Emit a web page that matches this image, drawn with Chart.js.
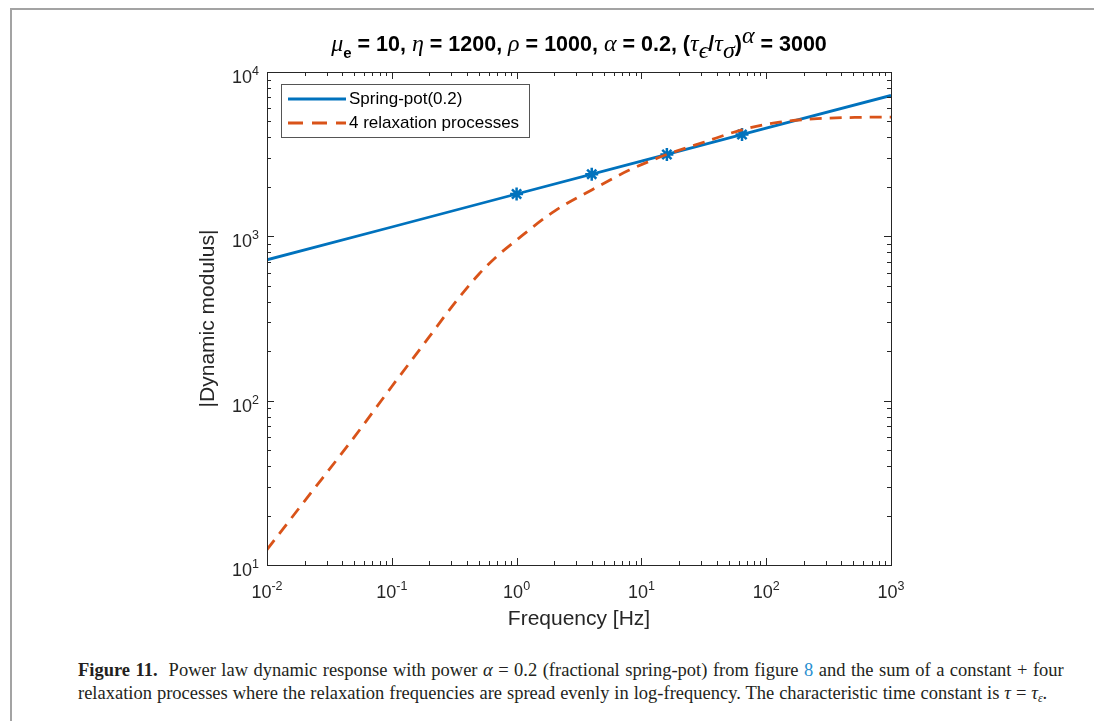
<!DOCTYPE html>
<html>
<head>
<meta charset="utf-8">
<script src="https://cdn.jsdelivr.net/npm/chart.js@4.4.0/dist/chart.umd.min.js"></script>
<style>
  body { margin:0; background:#fff; width:1094px; height:721px; overflow:hidden; position:relative; }
  #frame { position:absolute; left:10px; top:8px; right:0; bottom:0; border-top:2px solid #a3a3a3; border-left:2px solid #a3a3a3; }
  #wrap { position:absolute; left:0; top:0; width:1094px; height:640px; }
  #title { position:absolute; left:267px; width:624px; top:30px; text-align:center; font: bold 21.5px "Liberation Sans", Arial, sans-serif; color:#000; white-space:nowrap; }
  #title .g { font-family:"Liberation Serif", serif; font-style:italic; font-weight:normal; font-size:24px; }
  #title sub, #title sup { line-height:0; font-size:15px; }
  #title sub { vertical-align:-7px; }
  #title sup { vertical-align:8px; }
  #caption { position:absolute; left:78px; top:659px; font: 18.5px "Liberation Serif", serif; line-height:23px; color:#231f20; white-space:nowrap; }
  #caption sub { font-size:12px; line-height:0; vertical-align:-3px; }
</style>
</head>
<body>
<div id="frame"></div>
<div id="wrap"><canvas id="chart" width="1094" height="640"></canvas></div>
<div id="title"><span class="g">μ</span><sub>e</sub> = 10, <span class="g">η</span> = 1200, <span class="g">ρ</span> = 1000, <span class="g">α</span> = 0.2, (<span class="g">τ</span><sub class="g">ϵ</sub>/<span class="g">τ</span><sub class="g">σ</sub>)<sup class="g">α</sup> = 3000</div>
<div id="caption">
  <div style="word-spacing:0.85px"><b>Figure 11.</b>&nbsp; Power law dynamic response with power <i>α</i> = 0.2 (fractional spring-pot) from figure <span style="color:#2a8fd0">8</span> and the sum of a constant + four</div>
  <div style="word-spacing:0.3px">relaxation processes where the relaxation frequencies are spread evenly in log-frequency. The characteristic time constant is <i>τ</i> = <i>τ</i><sub><i>ε</i></sub>.</div>
</div>
<script>
// spring-pot line (straight in log-log), read at the decades
var potFreq = [0.01, 0.1, 1, 10, 100, 1000];
var potVals = [720, 1140, 1810, 2870, 4550, 7200];

// asterisk markers on the spring-pot line
var markFreq = [1, 4, 16, 64];
var markVals = [1810, 2390, 3150, 4160];

// constant + 4 relaxation processes
var relaxFreq = [0.01, 0.02, 0.05, 0.1, 0.2, 0.3, 0.5, 0.7, 1, 2, 4, 8, 16, 32, 64, 128, 256, 512, 1000];
var relaxVals = [12.4, 24.5, 60, 122, 245, 370, 590, 760, 950, 1420, 1915, 2530, 3150, 3750, 4450, 4950, 5200, 5290, 5320];

// log axes: tick decades and their exponents
var xTickVals = [0.01, 0.1, 1, 10, 100, 1000];
var xTickExp = ['-2', '-1', '0', '1', '2', '3'];
var yTickVals = [10, 100, 1000, 10000];
var yTickExp = ['1', '2', '3', '4'];

var blue = '#0072BD';
var red = '#D95319';
var axisCol = '#262626';
var sans = '"Liberation Sans", Arial, sans-serif';

function pts(xs, ys) {
  return xs.map(function (x, i) { return { x: x, y: ys[i] }; });
}

// majors plus 2..9 minors in each decade
function logTicks(majors) {
  var out = [];
  majors.forEach(function (m, i) {
    out.push(m);
    if (i < majors.length - 1) {
      for (var k = 2; k <= 9; k++) out.push(k * m);
    }
  });
  return out;
}

// "10" with a raised exponent
function drawPow(ctx, exp, x, y, align) {
  ctx.font = '18px ' + sans;
  var wb = ctx.measureText('10').width;
  ctx.font = '12.5px ' + sans;
  var we = ctx.measureText(exp).width;
  var left = align === 'center' ? x - (wb + we) / 2 : x - (wb + we);
  ctx.font = '18px ' + sans;
  ctx.fillText('10', left, y);
  ctx.font = '12.5px ' + sans;
  ctx.fillText(exp, left + wb, y - 8);
}

var axesBox = {
  id: 'axesBox',
  afterDatasetsDraw: function (chart) {
    var ctx = chart.ctx, a = chart.chartArea;
    var x = chart.scales.x, y = chart.scales.y;
    ctx.save();
    ctx.strokeStyle = axisCol;
    ctx.lineWidth = 1;
    ctx.beginPath();
    x.ticks.forEach(function (t) {
      var px = Math.round(x.getPixelForValue(t.value)) + 0.5;
      var len = xTickVals.indexOf(t.value) >= 0 ? 7 : 4;
      ctx.moveTo(px, a.bottom); ctx.lineTo(px, a.bottom - len);
      ctx.moveTo(px, a.top); ctx.lineTo(px, a.top + len);
    });
    y.ticks.forEach(function (t) {
      var py = Math.round(y.getPixelForValue(t.value)) + 0.5;
      var len = yTickVals.indexOf(t.value) >= 0 ? 7 : 4;
      ctx.moveTo(a.left, py); ctx.lineTo(a.left + len, py);
      ctx.moveTo(a.right, py); ctx.lineTo(a.right - len, py);
    });
    ctx.stroke();
    ctx.strokeRect(Math.round(a.left) + 0.5, Math.round(a.top) + 0.5,
      Math.round(a.right - a.left), Math.round(a.bottom - a.top));

    // decade labels
    ctx.fillStyle = axisCol;
    ctx.textAlign = 'left';
    ctx.textBaseline = 'alphabetic';
    xTickVals.forEach(function (v, i) {
      drawPow(ctx, xTickExp[i], x.getPixelForValue(v), a.bottom + 33, 'center');
    });
    yTickVals.forEach(function (v, i) {
      drawPow(ctx, yTickExp[i], a.left - 8, y.getPixelForValue(v) + 11, 'right');
    });
    ctx.restore();
  }
};

var legendBox = {
  id: 'legendBox',
  afterDraw: function (chart) {
    var ctx = chart.ctx, a = chart.chartArea;
    var items = chart.data.datasets.filter(function (d) { return d.label; });
    var bx = a.left + 14, by = a.top + 12, bw = 248, bh = 53;
    ctx.save();
    ctx.fillStyle = '#fff';
    ctx.fillRect(bx, by, bw, bh);
    ctx.strokeStyle = '#555';
    ctx.lineWidth = 1;
    ctx.strokeRect(bx + 0.5, by + 0.5, bw, bh);
    ctx.font = '17px ' + sans;
    ctx.textBaseline = 'middle';
    items.forEach(function (d, i) {
      var ly = by + 15 + i * 24;
      ctx.strokeStyle = d.borderColor;
      ctx.lineWidth = d.borderWidth;
      ctx.setLineDash(d.borderDash && d.borderDash.length ? [15, 9] : []);
      ctx.beginPath();
      ctx.moveTo(bx + 7, ly);
      ctx.lineTo(bx + 65, ly);
      ctx.stroke();
      ctx.setLineDash([]);
      ctx.fillStyle = '#000';
      ctx.fillText(d.label, bx + 68, ly);
    });
    ctx.restore();
  }
};

Chart.defaults.font.family = sans;

new Chart(document.getElementById('chart'), {
  type: 'line',
  data: {
    datasets: [{
      label: 'Spring-pot(0.2)',
      data: pts(potFreq, potVals),
      borderColor: blue,
      borderWidth: 2.8,
      pointRadius: 0,
      order: 2
    }, {
      label: '4 relaxation processes',
      data: pts(relaxFreq, relaxVals),
      borderColor: red,
      borderWidth: 2.8,
      borderDash: [12, 8],
      pointRadius: 0,
      cubicInterpolationMode: 'monotone',
      order: 1
    }, {
      label: '',
      data: pts(markFreq, markVals),
      showLine: false,
      pointStyle: 'star',
      pointRadius: 6.5,
      borderColor: blue,
      backgroundColor: blue,
      pointBorderWidth: 2.5,
      order: 3
    }]
  },
  options: {
    responsive: false,
    animation: false,
    devicePixelRatio: 1,
    layout: { padding: { left: 190, right: 203, top: 72, bottom: 8 } },
    plugins: { legend: { display: false }, tooltip: { enabled: false } },
    scales: {
      x: {
        type: 'logarithmic',
        min: 0.01, max: 1000,
        afterBuildTicks: function (s) { s.ticks = logTicks(xTickVals).map(function (v) { return { value: v }; }); },
        afterFit: function (s) { s.height = 67; },
        grid: { display: false, drawTicks: false },
        border: { display: false },
        ticks: { autoSkip: false, maxRotation: 0, callback: function () { return ''; } },
        title: { display: true, text: 'Frequency [Hz]', color: axisCol, font: { size: 21 }, padding: { top: 0, bottom: 0 } }
      },
      y: {
        type: 'logarithmic',
        min: 10, max: 10000,
        afterBuildTicks: function (s) { s.ticks = logTicks(yTickVals).map(function (v) { return { value: v }; }); },
        afterFit: function (s) { s.width = 77; },
        grid: { display: false, drawTicks: false },
        border: { display: false },
        ticks: { autoSkip: false, callback: function () { return ''; } },
        title: { display: true, text: '|Dynamic modulus|', color: axisCol, font: { size: 21 }, padding: { top: 6, bottom: 0 } }
      }
    }
  },
  plugins: [axesBox, legendBox]
});
</script>
</body>
</html>
